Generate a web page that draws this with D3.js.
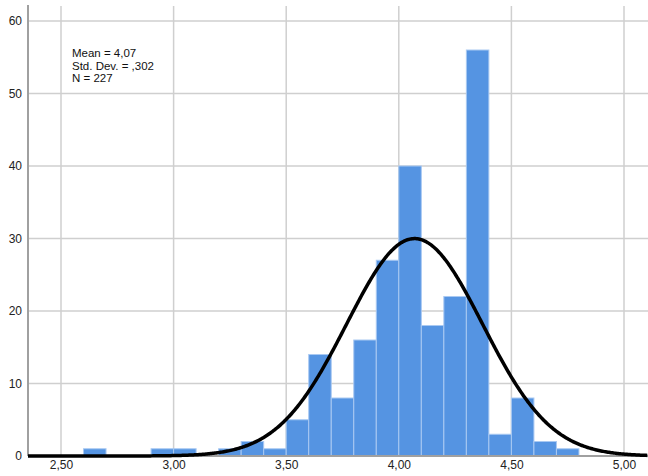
<!DOCTYPE html>
<html>
<head>
<meta charset="utf-8">
<script src="https://cdn.jsdelivr.net/npm/d3@7"></script>
<style>
  body { margin: 0; background: #fff; }
  svg { display: block; font-family: Arial, "Liberation Sans", sans-serif; }
</style>
</head>
<body>
<div id="chart"></div>
<script>
// bins of width 0.1 (lower edge) and frequencies
const binStarts = [2.6, 2.9, 3.0, 3.2, 3.3, 3.4, 3.5, 3.6, 3.7, 3.8, 3.9, 4.0, 4.1, 4.2, 4.3, 4.4, 4.5, 4.6, 4.7];
const counts    = [1,   1,   1,   1,   2,   1,   5,   14,  8,   16,  27,  40,  18,  22,  56,  3,   8,   2,   1];
const binWidth = 0.1;
const xTicks = [2.5, 3.0, 3.5, 4.0, 4.5, 5.0];
const yTicks = [0, 10, 20, 30, 40, 50, 60];
const statLines = ["Mean = 4,07", "Std. Dev. = ,302", "N = 227"];
const mean = 4.07, sd = 0.302, n = 227;

const width = 648, height = 476;
const plotLeft = 28, plotRight = 648, plotTop = 6, plotBottom = 456;

const svg = d3.select("#chart").append("svg")
    .attr("width", width)
    .attr("height", height);

const x = d3.scaleLinear().domain([2.5, 5.0]).range([61, 624]);
const y = d3.scaleLinear().domain([0, 60]).range([plotBottom, 21]);

const fmt = d => d3.format(".2f")(d).replace(".", ",");

// grid
svg.append("g").selectAll("line")
    .data(yTicks.filter(d => d > 0))
    .enter().append("line")
    .attr("x1", plotLeft).attr("x2", plotRight)
    .attr("y1", d => y(d)).attr("y2", d => y(d))
    .attr("stroke", "#cfcfcf").attr("stroke-width", 1.5);

svg.append("g").selectAll("line")
    .data(xTicks)
    .enter().append("line")
    .attr("x1", d => x(d)).attr("x2", d => x(d))
    .attr("y1", plotTop).attr("y2", plotBottom)
    .attr("stroke", "#cfcfcf").attr("stroke-width", 1.5);

// bars
svg.append("g").selectAll("rect")
    .data(binStarts)
    .enter().append("rect")
    .attr("x", d => x(d))
    .attr("y", (d, i) => y(counts[i]))
    .attr("width", d => x(d + binWidth) - x(d))
    .attr("height", (d, i) => y(0) - y(counts[i]))
    .attr("fill", "#5594e2")
    .attr("stroke", "#a9c9f2")
    .attr("stroke-width", 1);

// axes
const yAxis = svg.append("g")
    .attr("transform", `translate(${plotLeft},0)`)
    .call(d3.axisLeft(y).tickValues(yTicks).tickSize(0).tickPadding(6));
yAxis.select(".domain").remove();
yAxis.append("line")
    .attr("x1", 0).attr("x2", 0)
    .attr("y1", plotTop - 1).attr("y2", plotBottom)
    .attr("stroke", "#a0a0a0").attr("stroke-width", 2);

const xAxis = svg.append("g")
    .attr("transform", `translate(0,${plotBottom})`)
    .call(d3.axisBottom(x).tickValues(xTicks).tickFormat(fmt).tickSize(0).tickPadding(4));
xAxis.select(".domain").remove();
xAxis.append("line")
    .attr("x1", plotLeft).attr("x2", plotRight)
    .attr("stroke", "#a0a0a0").attr("stroke-width", 2);

svg.selectAll(".tick text")
    .attr("fill", "#222")
    .style("font-size", "12px")
    .style("font-family", "Arial, 'Liberation Sans', sans-serif");

// normal curve fitted from the displayed statistics
const curveXs = d3.range(x.invert(plotLeft), x.invert(plotRight) + 0.001, 0.005);
const dens = v => n * binWidth / (sd * Math.sqrt(2 * Math.PI)) * Math.exp(-0.5 * ((v - mean) / sd) ** 2);
svg.append("path")
    .datum(curveXs)
    .attr("fill", "none")
    .attr("stroke", "#000")
    .attr("stroke-width", 3.5)
    .attr("d", d3.line().x(d => x(d)).y(d => y(dens(d))));

// stats box
svg.append("g").selectAll("text")
    .data(statLines)
    .enter().append("text")
    .attr("x", 72)
    .attr("y", (d, i) => 57 + i * 12.5)
    .attr("fill", "#111")
    .style("font-size", "11.5px")
    .text(d => d);
</script>
</body>
</html>
